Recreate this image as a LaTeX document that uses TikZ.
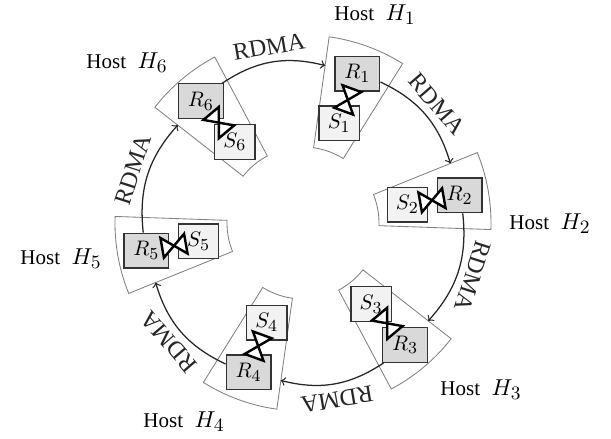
\documentclass[tikz,border=0pt]{standalone}
\usepackage[no-math]{fontspec}
\setmainfont{Liberation Serif}
\usetikzlibrary{calc}

% slightly larger sub/superscripts than the default ratio
\DeclareMathSizes{10}{10}{8}{6}
\DeclareMathSizes{11}{11}{9}{7}

\definecolor{rfill}{gray}{0.85}
\definecolor{sfill}{gray}{0.95}
\definecolor{secline}{gray}{0.5}
\definecolor{boxline}{gray}{0.2}
\definecolor{linkcol}{gray}{0.15}

\newcommand{\hostname}[1]{Host\hspace{5.5pt}{\fontsize{11}{13}\selectfont$H_{#1}$}}

\begin{document}
\begin{tikzpicture}[x=0.476pt, y=0.476pt,
  sector/.style={draw=secline, line width=0.4pt},
  rbox/.style={draw=boxline, fill=rfill, line width=0.6pt, inner xsep=4.5pt, inner ysep=4pt},
  sbox/.style={draw=boxline, fill=sfill, line width=0.6pt, inner xsep=4.2pt, inner ysep=4pt},
  link/.style={draw=linkcol, line width=0.6pt, ->},
  lbl/.style={midway, above, sloped, allow upside down, text=black!85,
              font=\fontsize{11.5}{13}\selectfont},
  bolt/.style={draw=black, fill=white, line width=1.15pt, line join=miter},
  hostlbl/.style={anchor=base, inner sep=0pt}]

\useasboundingbox (0,0) rectangle (611,-438);

% centre of the ring
\coordinate (C) at (303,-223);

% host sectors and link points
\foreach \i/\ang in {1/70,2/10,3/-50,4/-110,5/-170,6/130}{
  \draw[sector] ($(C)+(\ang-12:76)$) -- ($(C)+(\ang-12:188)$)
     arc[start angle=\ang-12, end angle=\ang+12, radius=188]
     -- ($(C)+(\ang+12:76)$)
     arc[start angle=\ang+12, end angle=\ang-12, radius=76] -- cycle;
  \coordinate (E\i) at ($(C)+(\ang+12:159)$);
  \coordinate (M\i) at ($(C)+(\ang:131)$);
}

% receiver and sender boxes joined by a bow-tie link
\foreach \i/\ang in {1/70,2/10,3/-50,4/-110,5/-170,6/130}{
  \node[rbox] (R\i) at ($(C)+(\ang:159)$) {$R_{\i}$};
  \node[sbox] (S\i) at ($(C)+(\ang:106)$) {$S_{\i}$};
  \draw[bolt, shift={(M\i)}, rotate=\ang]
     (12,10) -- (12,-10) -- (-12,10) -- (-12,-10) -- cycle;
}

% RDMA links around the ring
\foreach \i/\j in {1/2,2/3,3/4,4/5,5/6,6/1}{
  \draw[link] (R\i) to[bend left=24] node[lbl]{RDMA} (E\j);
}

% host names
\node[hostlbl] (h1) at (375,-20)  {\hostname{1}};
\node[hostlbl] (h2) at (550,-229) {\hostname{2}};
\node[hostlbl] (h3) at (481,-395) {\hostname{3}};
\node[hostlbl] (h4) at (184,-427) {\hostname{4}};
\node[hostlbl] (h5) at (61,-264)  {\hostname{5}};
\node[hostlbl] (h6) at (127,-68)  {\hostname{6}};
\end{tikzpicture}
\end{document}
